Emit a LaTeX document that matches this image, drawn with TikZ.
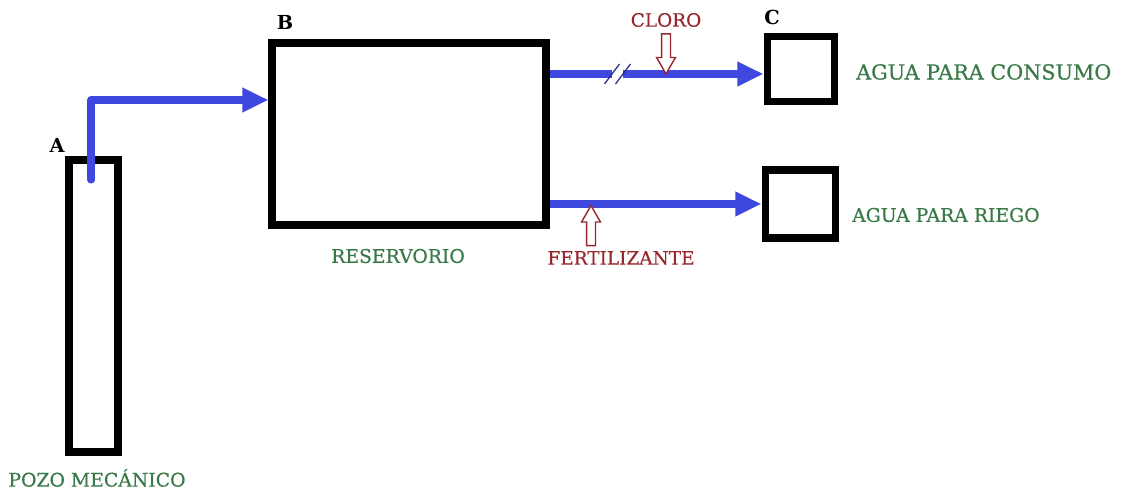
\documentclass[tikz,border=0pt]{standalone}
\usepackage{fontspec}
\setmainfont{DejaVu Serif}
\usetikzlibrary{arrows.meta, positioning, shapes.arrows}
\definecolor{azulagua}{RGB}{62,72,222}
\definecolor{verdetxt}{RGB}{58,122,72}
\definecolor{rojotxt}{RGB}{150,40,45}
\tikzset{
  caja/.style={rectangle, draw=black, line width=4pt, inner sep=0pt},
  tubo/.style={draw=azulagua, line width=4pt, line join=round, line cap=round},
  tuboflecha/.style={tubo, -{Triangle[length=0.52cm, width=0.46cm]}},
  corte/.style={draw=azulagua!60!black, line width=0.7pt},
  etiq/.style={font=\fontsize{10.7}{12}\selectfont\addfontfeature{FakeBold=0.6}, text=verdetxt},
  letra/.style={font=\fontsize{11}{12}\selectfont\bfseries, text=black},
  quimico/.style={font=\fontsize{10.5}{12}\selectfont\addfontfeature{FakeBold=0.3}, text=rojotxt},
  dosis/.style={single arrow, draw=rojotxt, line width=0.8pt, fill=white,
    inner sep=0.075cm, single arrow head extend=0.1cm,
    single arrow tip angle=60, minimum height=0.8cm}
}
\begin{document}
\begin{tikzpicture}
  \useasboundingbox (0,0) rectangle (22.44,9.88);
  % Pozo
  \node[caja, minimum width=0.98cm, minimum height=5.84cm] (pozo) at (1.87,3.76) {};
  \node[letra] (letraA) at (1.14,6.98) {A};
  \node[etiq] (lblpozo) at (1.94,0.32) {POZO MECÁNICO};
  % Reservorio
  \node[caja, minimum width=5.48cm, minimum height=3.64cm] (res) at (8.18,7.2) {};
  \node[letra] (letraB) at (5.7,9.44) {B};
  \node[etiq] (lblres) at (7.96,4.76) {RESERVORIO};
  % Destinos
  \node[caja, minimum width=1.34cm, minimum height=1.3cm] (consumo) at (16.01,8.5) {};
  \node[letra] (letraC) at (15.44,9.54) {C};
  \node[etiq, font=\fontsize{11.8}{14}\selectfont\addfontfeature{FakeBold=0.6}, anchor=west] (lblconsumo) at (17.0,8.44) {AGUA PARA CONSUMO};
  \node[caja, minimum width=1.4cm, minimum height=1.36cm] (riego) at (16.0,5.8) {};
  \node[etiq, anchor=west] (lblriego) at (16.92,5.58) {AGUA PARA RIEGO};
  % Tuberias
  \coordinate (toma) at (1.82,6.28);
  \coordinate (codo) at (1.82,7.88);
  \draw[tuboflecha] (toma) -- (codo) -- (res.west |- codo);
  \coordinate (corteA) at (12.24,8.4);
  \coordinate (corteB) at (12.46,8.4);
  \draw[tubo, line cap=butt] (res.east |- corteA) -- (corteA);
  \draw[tuboflecha, line cap=butt] (corteB) -- (consumo.west |- corteB);
  \draw[corte] ([shift={(-0.15,-0.2)}]corteA) -- ([shift={(0.15,0.2)}]corteA);
  \draw[corte] ([shift={(-0.15,-0.2)}]corteB) -- ([shift={(0.15,0.2)}]corteB);
  \draw[tuboflecha, line cap=butt] (res.east |- riego.west) -- (riego.west);
  % Dosificacion
  \node[dosis, rotate=-90] (flechacloro) at (13.32,8.88) {};
  \node[quimico] (lblcloro) at (13.32,9.48) {CLORO};
  \node[dosis, rotate=90] (flechafert) at (11.82,5.29) {};
  \node[quimico] (lblfert) at (12.42,4.72) {FERTILIZANTE};
\end{tikzpicture}
\end{document}
